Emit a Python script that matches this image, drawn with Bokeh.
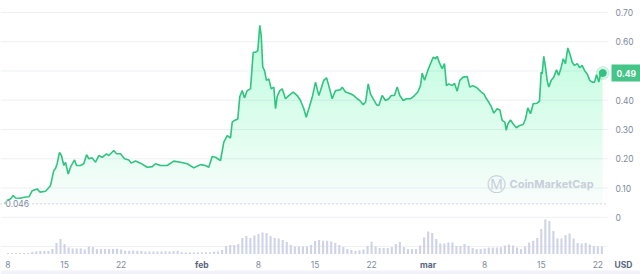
import numpy as np
from bokeh.plotting import figure
from bokeh.models import Range1d, Label, BoxAnnotation
from bokeh.embed import file_html
from bokeh.resources import INLINE

# ---- data (days counted from 8 Jan) ----
price_days = [-0.40, -0.10, 0.30, 0.64, 0.93, 1.50, 2.17, 2.60, 3.00, 3.61, 3.94, 4.64, 5.26, 5.67, 5.88,
              6.09, 6.37, 6.62, 6.91, 7.12, 7.45, 7.74, 8.23, 8.48, 8.97, 9.38, 9.72, 10.00, 10.42, 10.83,
              11.24, 11.66, 12.19, 12.48, 13.09, 13.43, 13.92, 14.42, 14.95, 15.25, 15.78, 16.40, 17.23,
              17.85, 18.25, 18.87, 19.70, 20.52, 21.35, 22.18, 23.00, 23.82, 24.44, 24.85, 25.27, 25.68,
              26.30, 26.71, 27.13, 27.54, 27.75, 28.03, 28.44, 28.69, 28.99, 29.27, 29.60, 30.01, 30.35,
              30.63, 30.92, 31.16, 31.34, 31.53, 31.74, 31.99, 32.28, 32.57, 32.90, 33.11, 33.32, 33.64,
              33.94, 34.34, 34.75, 35.30, 35.79, 36.20, 36.61, 36.91, 37.23, 37.65, 38.06, 38.47, 38.68,
              39.08, 39.42, 39.70, 40.12, 40.53, 41.15, 41.36, 41.77, 42.39, 42.80, 43.22, 43.54, 43.96,
              44.25, 44.58, 44.86, 45.20, 45.61, 45.89, 46.31, 46.72, 47.13, 47.43, 47.83, 48.17, 48.49,
              48.91, 49.32, 49.81, 50.31, 50.72, 51.05, 51.26, 51.55, 51.96, 52.29, 52.62, 52.91, 53.12,
              53.44, 53.74, 54.02, 54.27, 54.55, 54.98, 55.26, 55.59, 55.92, 56.34, 56.83, 57.15, 57.57,
              57.86, 58.07, 58.56, 58.89, 59.22, 59.51, 59.80, 60.12, 60.54, 60.87, 61.16, 61.49, 61.66,
              61.86, 62.19, 62.52, 62.93, 63.34, 63.76, 64.05, 64.33, 64.67, 65.00, 65.49, 65.78, 65.99,
              66.11, 66.31, 66.52, 66.73, 66.93, 67.23, 67.55, 67.88, 68.16, 68.47, 68.71, 68.99, 69.28,
              69.53, 69.83, 70.11, 70.45, 70.77, 71.06, 71.35, 71.68, 72.00, 72.30, 72.59, 72.84, 73.12,
              73.33, 73.61]
prices = [0.046, 0.058, 0.062, 0.074, 0.066, 0.065, 0.069, 0.070, 0.091, 0.097, 0.086, 0.089, 0.108, 0.160,
          0.167, 0.184, 0.222, 0.211, 0.177, 0.188, 0.148, 0.171, 0.196, 0.177, 0.177, 0.183, 0.214, 0.200,
          0.203, 0.188, 0.211, 0.205, 0.217, 0.211, 0.228, 0.217, 0.217, 0.200, 0.196, 0.185, 0.192, 0.185,
          0.171, 0.173, 0.183, 0.177, 0.177, 0.192, 0.188, 0.183, 0.169, 0.180, 0.177, 0.171, 0.208, 0.205,
          0.194, 0.257, 0.279, 0.271, 0.325, 0.331, 0.336, 0.413, 0.433, 0.408, 0.433, 0.439, 0.564, 0.564,
          0.570, 0.656, 0.621, 0.513, 0.502, 0.468, 0.473, 0.439, 0.445, 0.371, 0.413, 0.433, 0.439, 0.405,
          0.416, 0.428, 0.416, 0.399, 0.371, 0.342, 0.371, 0.410, 0.462, 0.416, 0.433, 0.468, 0.477, 0.450,
          0.405, 0.433, 0.436, 0.445, 0.428, 0.422, 0.416, 0.405, 0.399, 0.385, 0.393, 0.456, 0.422, 0.405,
          0.385, 0.382, 0.416, 0.399, 0.405, 0.416, 0.416, 0.445, 0.416, 0.399, 0.405, 0.405, 0.416, 0.428,
          0.450, 0.493, 0.468, 0.502, 0.525, 0.547, 0.542, 0.550, 0.525, 0.508, 0.525, 0.450, 0.456, 0.450,
          0.458, 0.431, 0.468, 0.479, 0.481, 0.445, 0.450, 0.445, 0.442, 0.428, 0.422, 0.405, 0.393, 0.379,
          0.356, 0.371, 0.367, 0.331, 0.325, 0.297, 0.319, 0.333, 0.319, 0.306, 0.314, 0.317, 0.336, 0.374,
          0.354, 0.388, 0.390, 0.397, 0.496, 0.490, 0.550, 0.513, 0.468, 0.445, 0.468, 0.479, 0.504, 0.485,
          0.513, 0.542, 0.525, 0.579, 0.559, 0.530, 0.519, 0.525, 0.511, 0.519, 0.502, 0.490, 0.468, 0.462,
          0.462, 0.487, 0.462, 0.490, 0.493]

vol_days = [i * 0.5 for i in range(148)]
volumes = [10, 10, 10, 10, 10, 10, 20, 28, 30, 30, 30, 50, 110, 150, 100, 65, 56, 55, 56, 46,
           76, 70, 50, 50, 50, 50, 50, 52, 45, 33, 33, 35, 33, 30, 26, 26, 26, 26, 26, 28,
           26, 30, 33, 18, 16, 16, 16, 16, 16, 18, 18, 26, 26, 40, 80, 90, 90, 100, 160, 180,
           160, 185, 200, 215, 210, 180, 160, 156, 140, 120, 90, 76, 76, 76, 76, 90, 130, 140, 133, 133,
           125, 110, 90, 70, 50, 40, 30, 38, 45, 80, 123, 76, 60, 60, 60, 70, 100, 120, 70, 50,
           50, 50, 85, 166, 225, 210, 150, 105, 105, 116, 116, 80, 80, 100, 80, 60, 50, 50, 55, 66,
           66, 66, 68, 85, 95, 85, 65, 50, 75, 116, 133, 160, 250, 345, 330, 230, 156, 156, 190, 205,
           155, 110, 105, 110, 95, 80, 76, 76]

x_ticks = [0, 7, 14, 24, 31, 38, 45, 52, 59, 66, 73]
x_labels = ["8", "15", "22", "feb", "8", "15", "22", "mar", "8", "15", "22"]
y_ticks = [0, 0.1, 0.2, 0.3, 0.4, 0.6, 0.7]
grid_ticks = [-0.1, 0, 0.1, 0.2, 0.3, 0.4, 0.5, 0.6, 0.7]

GREEN = "#2fc47f"
BOX_GREEN = "#45c688"
GREY = "#808a9d"
DARK = "#58667e"
FONT = "Inter"

X0, X1 = -0.928, 78.28          # whole canvas, day units
Y0, Y1 = -0.1957, 0.741         # whole canvas, price units
PLOT_RIGHT = 74.2               # right edge of the chart area (day units)

p = figure(frame_width=640, frame_height=274,
           x_range=Range1d(X0, X1), y_range=Range1d(Y0, Y1),
           output_backend="svg", toolbar_location=None,
           x_axis_location=None, y_axis_location=None,
           min_border=0)
p.outline_line_color = None
p.grid.visible = False

# grid lines (only across the chart area)
p.segment(x0=[X0] * len(grid_ticks), x1=[PLOT_RIGHT] * len(grid_ticks),
          y0=grid_ticks, y1=grid_ticks, line_color="#eef0f4", line_width=1)

# bottom strip
p.add_layout(BoxAnnotation(bottom=Y0, top=Y0 + 0.014, fill_color="#f1f2fa",
                           fill_alpha=1, line_color=None))

# volume
p.extra_y_ranges = {"vol": Range1d(-205, 2535)}
p.vbar(x=vol_days, top=volumes, width=0.26, y_range_name="vol",
       fill_color="#cfd3e6", line_color=None)

# gradient area (stacked translucent layers)
price_arr = np.array(prices)
base = min(prices)
levels = np.arange(base, max(prices), 0.02)
for i, lv in enumerate(levels):
    p.varea(x=price_days, y1=np.full(len(prices), lv), y2=np.maximum(price_arr, lv),
            fill_color=GREEN, fill_alpha=0.03 if i == 0 else 0.0075)

# min dotted line
p.segment(x0=[X0], x1=[PLOT_RIGHT], y0=[base], y1=[base], line_color="#a9b1c2",
          line_dash="1 3", line_width=1)
p.add_layout(Label(x=5, y=base, x_units="screen", y_units="data", text=f"{base:.3f}",
                   text_font=FONT, text_font_size="8.5px", text_color=GREY,
                   text_baseline="middle", background_fill_color="white"))

p.line(price_days, prices, line_color=GREEN, line_width=1.6)
p.scatter([price_days[-1]], [prices[-1]], size=13, color=GREEN, alpha=0.18)
p.scatter([price_days[-1]], [prices[-1]], size=7, color=GREEN)

# y tick labels (right)
for t in y_ticks:
    p.add_layout(Label(x=615, y=t, x_units="screen", y_units="data",
                       text="0" if t == 0 else f"{t:.2f}",
                       text_font=FONT, text_font_size="8.5px", text_color=GREY,
                       text_baseline="middle"))

# x tick labels (bottom)
for t, lab in zip(x_ticks, x_labels):
    month = not lab.isdigit()
    p.add_layout(Label(x=t, y=10, x_units="data", y_units="screen", text=lab,
                       text_font=FONT, text_font_size="8.5px",
                       text_font_style="bold" if month else "normal",
                       text_color=DARK if month else GREY,
                       text_align="center", text_baseline="middle"))

p.add_layout(Label(x=614, y=10, x_units="screen", y_units="screen", text="USD",
                   text_font=FONT, text_font_size="8.5px", text_font_style="bold",
                   text_color=DARK, text_baseline="middle"))

p.add_layout(Label(x=611, y=prices[-1], x_units="screen", y_units="data",
                   text=f"{prices[-1]:.2f}", text_font=FONT, text_font_size="8.5px",
                   text_font_style="bold", text_color="white", text_baseline="middle",
                   background_fill_color=BOX_GREEN, padding=5))

# watermark
p.add_layout(Label(x=486, y=91, x_units="screen", y_units="screen", text="Ⓜ",
                   text_font="DejaVu Sans", text_font_size="19px", text_color="#c9cedb",
                   text_baseline="middle"))
p.add_layout(Label(x=509, y=91, x_units="screen", y_units="screen", text="CoinMarketCap",
                   text_font=FONT, text_font_size="11px", text_font_style="bold",
                   text_color="#c9cedb", text_baseline="middle"))

open("out.html", "w").write(file_html(p, INLINE))
